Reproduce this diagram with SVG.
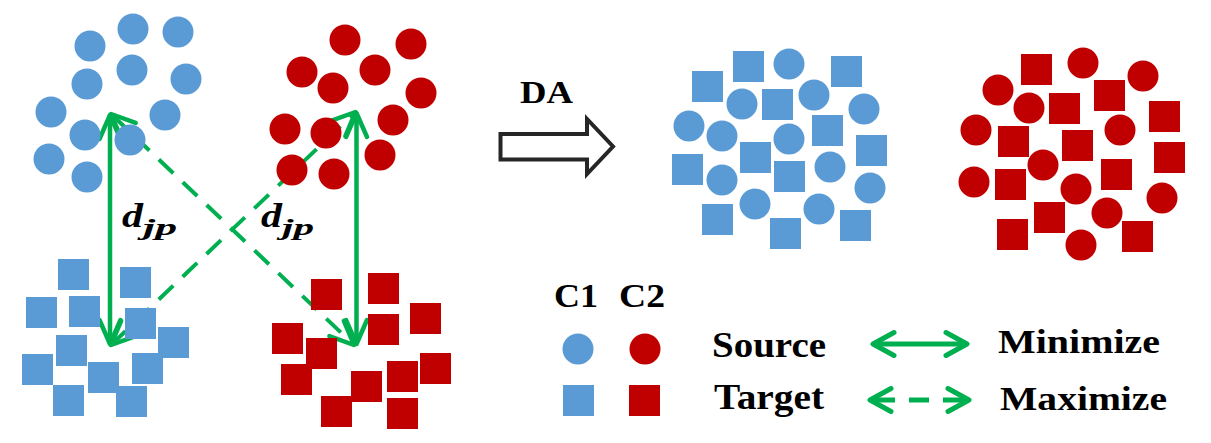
<svg xmlns="http://www.w3.org/2000/svg" xmlns:xlink="http://www.w3.org/1999/xlink" width="1211" height="443" viewBox="0 0 1211 443">
<style>
.b{fill:#5B9BD5}
.r{fill:#C00000}
.con{stroke:#00B050;fill:none}
.solid{stroke-width:4.5}
.dash{stroke-width:4;stroke-dasharray:20 13}
.lg{stroke-width:5}
.lgd{stroke-width:5;stroke-dasharray:25 14 20 14 26}
.t{font-family:"Liberation Serif","Times New Roman",serif;font-weight:bold;fill:#000}
.m{font-family:"Liberation Serif","Times New Roman",serif;font-weight:bold;font-style:italic;fill:#000}
</style>
<defs>
<rect id="sq" width="31" height="31"/>
<circle id="ci" r="15.5"/>
<marker id="ah" markerUnits="userSpaceOnUse" orient="auto-start-reverse" markerWidth="40" markerHeight="40" refX="0" refY="0" overflow="visible">
<path d="M-24,-10.5 L0,0 L-24,10.5" fill="none" stroke="#00B050" stroke-width="4.5" stroke-linejoin="round" stroke-linecap="round"/>
</marker>
<marker id="ahL" markerUnits="userSpaceOnUse" orient="auto-start-reverse" markerWidth="40" markerHeight="40" refX="0" refY="0" overflow="visible">
<path d="M-21,-11.5 L0,0 L-21,11.5" fill="none" stroke="#00B050" stroke-width="5" stroke-linejoin="round" stroke-linecap="round"/>
</marker>
</defs>
<rect width="1211" height="443" fill="#fff"/>

<g id="connectors">
<line class="con solid" x1="110" y1="115" x2="110" y2="344" marker-start="url(#ah)" marker-end="url(#ah)"/>
<line class="con solid" x1="356.5" y1="113" x2="356.5" y2="344" marker-start="url(#ah)" marker-end="url(#ah)"/>
<line class="con dash" x1="111" y1="114" x2="354" y2="345" marker-start="url(#ah)" marker-end="url(#ah)"/>
<line class="con dash" x1="111" y1="345" x2="355.5" y2="112" marker-start="url(#ah)" marker-end="url(#ah)"/>
<line id="leg-min" class="con lg" x1="873" y1="344" x2="967" y2="344" marker-start="url(#ahL)" marker-end="url(#ahL)"/>
<line id="leg-max" class="con lgd" x1="870" y1="400" x2="969" y2="400" marker-start="url(#ahL)" marker-end="url(#ahL)"/>
</g>

<g id="src-c1">
<use href="#ci" class="b" x="90" y="46"/><use href="#ci" class="b" x="133" y="29"/><use href="#ci" class="b" x="178" y="32"/>
<use href="#ci" class="b" x="132" y="70"/><use href="#ci" class="b" x="87" y="84"/><use href="#ci" class="b" x="186" y="79"/>
<use href="#ci" class="b" x="51" y="112"/><use href="#ci" class="b" x="165" y="115"/><use href="#ci" class="b" x="85" y="135"/>
<use href="#ci" class="b" x="130" y="140"/><use href="#ci" class="b" x="49" y="159"/><use href="#ci" class="b" x="87" y="177"/>
</g>

<g id="src-c2">
<use href="#ci" class="r" x="345" y="40"/><use href="#ci" class="r" x="411" y="44"/><use href="#ci" class="r" x="302" y="72"/>
<use href="#ci" class="r" x="375" y="70"/><use href="#ci" class="r" x="333" y="88"/><use href="#ci" class="r" x="421" y="93"/>
<use href="#ci" class="r" x="393" y="120"/><use href="#ci" class="r" x="285" y="129"/><use href="#ci" class="r" x="326" y="133"/>
<use href="#ci" class="r" x="380" y="155"/><use href="#ci" class="r" x="292" y="170"/><use href="#ci" class="r" x="334" y="174"/>
</g>

<g id="tgt-c1">
<use href="#sq" class="b" x="58" y="259"/><use href="#sq" class="b" x="120" y="267"/><use href="#sq" class="b" x="26" y="297"/>
<use href="#sq" class="b" x="69" y="296"/><use href="#sq" class="b" x="125" y="308"/><use href="#sq" class="b" x="158" y="327"/>
<use href="#sq" class="b" x="56" y="335"/><use href="#sq" class="b" x="22" y="354"/><use href="#sq" class="b" x="88" y="362"/>
<use href="#sq" class="b" x="132" y="353"/><use href="#sq" class="b" x="53" y="385"/><use href="#sq" class="b" x="116" y="386"/>
</g>

<g id="tgt-c2">
<use href="#sq" class="r" x="311" y="279"/><use href="#sq" class="r" x="368" y="273"/><use href="#sq" class="r" x="410" y="303"/>
<use href="#sq" class="r" x="272" y="323"/><use href="#sq" class="r" x="368" y="314"/><use href="#sq" class="r" x="306" y="338"/>
<use href="#sq" class="r" x="281" y="364"/><use href="#sq" class="r" x="420" y="353"/><use href="#sq" class="r" x="387" y="361"/>
<use href="#sq" class="r" x="351" y="371"/><use href="#sq" class="r" x="321" y="396"/><use href="#sq" class="r" x="387" y="398"/>
</g>

<g id="label-djp-1">
<text class="m" x="122" y="227" font-size="34" textLength="21" lengthAdjust="spacingAndGlyphs">d</text>
<text class="m" x="143" y="235" font-size="23" textLength="34" lengthAdjust="spacingAndGlyphs">jp</text>
</g>
<g id="label-djp-2">
<text class="m" x="261" y="227" font-size="34" textLength="21" lengthAdjust="spacingAndGlyphs">d</text>
<text class="m" x="282" y="235" font-size="23" textLength="32" lengthAdjust="spacingAndGlyphs">jp</text>
</g>

<g id="da-arrow">
<path d="M500.5,134 H587 V119 L613,146.5 L587,174 V159.5 H500.5 Z" fill="#fff" stroke="#262626" stroke-width="4"/>
<text class="t" x="520" y="103" font-size="32" textLength="53" lengthAdjust="spacingAndGlyphs">DA</text>
</g>

<g id="aligned-c1">
<use href="#sq" class="b" x="733" y="51"/><use href="#sq" class="b" x="692" y="71"/><use href="#sq" class="b" x="831" y="56"/>
<use href="#sq" class="b" x="762" y="89"/><use href="#sq" class="b" x="812" y="115"/><use href="#sq" class="b" x="856" y="135"/>
<use href="#sq" class="b" x="740" y="142"/><use href="#sq" class="b" x="672" y="154"/><use href="#sq" class="b" x="774" y="161"/>
<use href="#sq" class="b" x="702" y="204"/><use href="#sq" class="b" x="770" y="218"/><use href="#sq" class="b" x="840" y="210"/>
<use href="#ci" class="b" x="789" y="64"/><use href="#ci" class="b" x="742" y="104"/><use href="#ci" class="b" x="814" y="95"/>
<use href="#ci" class="b" x="864" y="109"/><use href="#ci" class="b" x="689" y="126"/><use href="#ci" class="b" x="722" y="136"/>
<use href="#ci" class="b" x="789" y="139"/><use href="#ci" class="b" x="830" y="167"/><use href="#ci" class="b" x="722" y="180"/>
<use href="#ci" class="b" x="870" y="188"/><use href="#ci" class="b" x="755" y="204"/><use href="#ci" class="b" x="819" y="209"/>
</g>

<g id="aligned-c2">
<use href="#sq" class="r" x="1021" y="54"/><use href="#sq" class="r" x="1094" y="80"/><use href="#sq" class="r" x="1049" y="93"/>
<use href="#sq" class="r" x="1149" y="101"/><use href="#sq" class="r" x="998" y="126"/><use href="#sq" class="r" x="1062" y="130"/>
<use href="#sq" class="r" x="1154" y="142"/><use href="#sq" class="r" x="1101" y="159"/><use href="#sq" class="r" x="995" y="169"/>
<use href="#sq" class="r" x="1034" y="202"/><use href="#sq" class="r" x="997" y="219"/><use href="#sq" class="r" x="1122" y="221"/>
<use href="#ci" class="r" x="1083" y="63"/><use href="#ci" class="r" x="1143" y="76"/><use href="#ci" class="r" x="998" y="90"/>
<use href="#ci" class="r" x="1029" y="108"/><use href="#ci" class="r" x="976" y="130"/><use href="#ci" class="r" x="1120" y="130"/>
<use href="#ci" class="r" x="1043" y="165"/><use href="#ci" class="r" x="974" y="182"/><use href="#ci" class="r" x="1076" y="189"/>
<use href="#ci" class="r" x="1162" y="198"/><use href="#ci" class="r" x="1107" y="213"/><use href="#ci" class="r" x="1081" y="245"/>
</g>

<g id="legend">
<text class="t" x="554" y="307" font-size="33" textLength="44" lengthAdjust="spacingAndGlyphs">C1</text>
<text class="t" x="619" y="307" font-size="33" textLength="46" lengthAdjust="spacingAndGlyphs">C2</text>
<use href="#ci" class="b" x="578" y="349"/>
<use href="#ci" class="r" x="645" y="349"/>
<use href="#sq" class="b" x="563" y="385"/>
<use href="#sq" class="r" x="629" y="385"/>
<text class="t" x="712" y="357" font-size="36" textLength="114" lengthAdjust="spacingAndGlyphs">Source</text>
<text class="t" x="714" y="409" font-size="36" textLength="110" lengthAdjust="spacingAndGlyphs">Target</text>
<text class="t" x="998" y="353" font-size="34" textLength="162" lengthAdjust="spacingAndGlyphs">Minimize</text>
<text class="t" x="1000" y="410" font-size="34" textLength="167" lengthAdjust="spacingAndGlyphs">Maximize</text>
</g>
</svg>
